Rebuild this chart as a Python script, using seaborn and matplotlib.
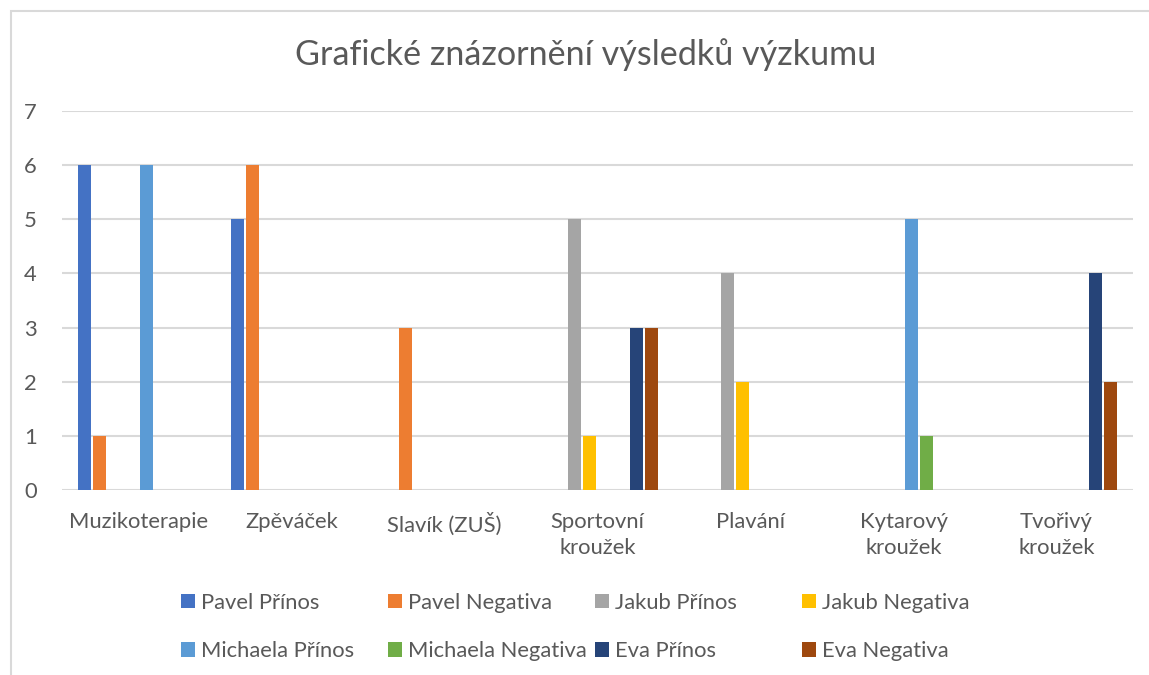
import matplotlib
matplotlib.use("Agg")
import matplotlib.pyplot as plt
import matplotlib.patches as mpatches
import seaborn as sns
import pandas as pd

# data
kategorie = ["Muzikoterapie", "Zpěváček", "Slavík (ZUŠ)", "Sportovní\nkroužek",
             "Plavání", "Kytarový\nkroužek", "Tvořivý\nkroužek"]
rady = ["Pavel Přínos", "Pavel Negativa", "Jakub Přínos", "Jakub Negativa",
        "Michaela Přínos", "Michaela Negativa", "Eva Přínos", "Eva Negativa"]
pavel_prinos = [6, 5, 0, 0, 0, 0, 0]
pavel_negativa = [1, 6, 3, 0, 0, 0, 0]
jakub_prinos = [0, 0, 0, 5, 4, 0, 0]
jakub_negativa = [0, 0, 0, 1, 2, 0, 0]
michaela_prinos = [6, 0, 0, 0, 0, 5, 0]
michaela_negativa = [0, 0, 0, 0, 0, 1, 0]
eva_prinos = [0, 0, 0, 3, 0, 0, 4]
eva_negativa = [0, 0, 0, 3, 0, 0, 2]
barvy = ["#4472C4", "#ED7D31", "#A5A5A5", "#FFC000",
         "#5B9BD5", "#70AD47", "#264478", "#9E480E"]

hodnoty = [pavel_prinos, pavel_negativa, jakub_prinos, jakub_negativa,
           michaela_prinos, michaela_negativa, eva_prinos, eva_negativa]
df = pd.DataFrame([
    {"kategorie": k, "rada": r, "hodnota": v}
    for r, vals in zip(rady, hodnoty)
    for k, v in zip(kategorie, vals)
])

sns.set_style("white")
plt.rcParams["font.family"] = ["Lato", "DejaVu Sans"]
seda = "#595959"
pismo = 15.8

W, H = 1149, 675
fig = plt.figure(figsize=(W / 100, H / 100), dpi=100)
ax = fig.add_axes([62 / W, 1 - 490 / H, (1133 - 62) / W, (490 - 111) / H])

sns.barplot(data=df, x="kategorie", y="hodnota", hue="rada", order=kategorie,
            hue_order=rady, palette=barvy, saturation=1, width=0.81, gap=0.16,
            linewidth=0, ax=ax)

handles, labels = ax.get_legend_handles_labels()
ax.get_legend().remove()

ax.set_ylim(0, 7)
ax.set_yticks(range(0, 8))
ax.set_xlim(-0.5, len(kategorie) - 0.5)
ax.yaxis.grid(True, color="#D9D9D9", linewidth=1.5)
ax.set_axisbelow(True)
for s in ax.spines.values():
    s.set_visible(False)
ax.set_xlabel("")
ax.set_ylabel("")
ax.tick_params(axis="both", length=0, labelsize=pismo, colors=seda)
ax.tick_params(axis="y", pad=18)
ax.tick_params(axis="x", pad=16)
for t in ax.get_xticklabels():
    t.set_linespacing(1.35)

fig.text(586 / W, 1 - 55 / H, "Grafické znázornění výsledků výzkumu",
         ha="center", va="center", fontsize=24.6, color=seda)

# legend: 4 columns of two rows
lefts = [181, 388, 595, 802]
for j, x in enumerate(lefts):
    fig.legend([handles[j], handles[j + 4]], [labels[j], labels[j + 4]],
               loc="center left", bbox_to_anchor=(x / W, 1 - 627 / H),
               frameon=False, fontsize=pismo, labelcolor=seda,
               handlelength=0.62, handleheight=0.62, handletextpad=0.3,
               borderpad=0, borderaxespad=0, labelspacing=1.3)

fig.patches.append(mpatches.Rectangle((11 / W, -0.1), 1.2, 1 - 11 / H + 0.1,
                                      transform=fig.transFigure, fill=False,
                                      edgecolor="#D9D9D9", linewidth=1.5))

fig.savefig("out.png", dpi=100)
